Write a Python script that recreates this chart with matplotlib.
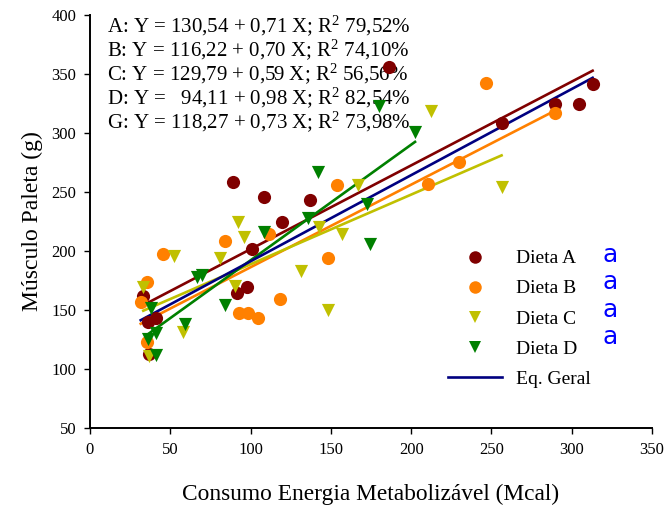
import matplotlib
matplotlib.use("Agg")
import matplotlib.pyplot as plt
from matplotlib.lines import Line2D
import numpy as np

plt.rcParams["font.family"] = ["Liberation Serif", "DejaVu Serif"]
plt.rcParams["mathtext.fontset"] = "custom"
plt.rcParams["mathtext.rm"] = "Liberation Serif"
plt.rcParams["mathtext.it"] = "Liberation Serif"

# pontos (consumo EM em Mcal, músculo paleta em g)
dieta_a_x = [88.8, 108.5, 119.4, 100.7, 97.6, 91.3, 33.2, 36.3, 40.9, 36.9, 186.0, 289.3, 304.7, 313.0, 256.3, 137.0]
dieta_a_y = [258.2, 245.5, 224.8, 201.7, 169.2, 164.7, 161.9, 140.0, 143.0, 112.7, 356.2, 324.6, 324.6, 341.5, 308.2, 243.2]

dieta_b_x = [111.6, 84.3, 45.6, 35.7, 31.6, 35.7, 93.0, 98.6, 104.8, 118.3, 154.0, 210.6, 229.8, 148.4, 246.6, 289.3]
dieta_b_y = [214.6, 208.7, 197.7, 174.0, 156.8, 122.6, 147.2, 147.7, 143.0, 159.1, 256.0, 256.8, 275.4, 193.8, 342.6, 316.7]

dieta_c_x = [52.3, 92.3, 95.9, 80.9, 33.2, 90.3, 58.1, 36.9, 167.1, 142.8, 156.7, 131.4, 212.3, 256.3, 148.4]
dieta_c_y = [195.8, 224.8, 212.1, 193.8, 169.8, 170.3, 131.6, 111.0, 256.0, 220.0, 214.2, 183.1, 318.6, 254.5, 150.0]

dieta_d_x = [180.1, 202.4, 142.2, 172.7, 135.9, 174.3, 108.3, 66.4, 69.6, 84.1, 59.2, 37.8, 41.1, 36.3, 41.1]
dieta_d_y = [322.9, 301.1, 267.2, 240.0, 227.7, 205.7, 215.8, 177.7, 179.4, 154.2, 138.1, 151.4, 130.2, 125.2, 111.9]

# equações de regressão
grupos = ["A", "B", "C", "D", "G"]
interceptos = [130.54, 116.22, 129.79, 94.11, 118.27]
inclinacoes = [0.71, 0.70, 0.59, 0.98, 0.73]
r2 = [79.52, 74.10, 56.56, 82.54, 73.98]

rotulos = ["Dieta A", "Dieta B", "Dieta C", "Dieta D", "Eq. Geral"]
letras = ["a", "a", "a", "a"]
cores = ["#800000", "#ff8000", "#c0c000", "#008000", "#000080"]
marcadores = ["o", "o", "v", "v"]


def virgula(v):
    return f"{v:.2f}".replace(".", ",")


fig = plt.figure(figsize=(6.64, 5.08), dpi=100)
ax = fig.add_axes([0.1355, 0.1575, 0.8465, 0.813])

series = [(dieta_a_x, dieta_a_y), (dieta_b_x, dieta_b_y),
          (dieta_c_x, dieta_c_y), (dieta_d_x, dieta_d_y)]
todos_x = np.concatenate([np.array(s[0]) for s in series])

handles = []
for i, (xs, ys) in enumerate(series):
    ax.scatter(xs, ys, s=90, marker=marcadores[i], color=cores[i],
               linewidths=0, zorder=3 + i)
    xl = np.array([min(xs), max(xs)])
    ax.plot(xl, interceptos[i] + inclinacoes[i] * xl, color=cores[i], lw=1.9, zorder=2)
    handles.append(Line2D([], [], ls="none", marker=marcadores[i], color=cores[i],
                          markersize=9, markeredgewidth=0))

xg = np.array([todos_x.min(), todos_x.max()])
ax.plot(xg, interceptos[4] + inclinacoes[4] * xg, color=cores[4], lw=1.9, zorder=2)
handles.append(Line2D([], [], color=cores[4], lw=1.9))

# uma linha de texto por equação
for k, (g, a, b, r) in enumerate(zip(grupos, interceptos, inclinacoes, r2)):
    sa = virgula(a)
    if len(sa) < 6:
        sa = "  " + sa
    txt = f"{g}: Y = {sa} + {virgula(b)} X; R$^2$ {virgula(r)}%"
    ax.text(0.03, 0.975 - 0.058 * k, txt, transform=ax.transAxes, va="center", ha="left",
            fontsize=15.0, zorder=1)

leg = ax.legend(handles, rotulos, loc="upper left", bbox_to_anchor=(0.6196, 0.455),
                frameon=False, fontsize=14, handlelength=2.8, handletextpad=0.7,
                labelspacing=0.64, borderpad=0.0)

for k, t in enumerate(letras):
    ax.text(0.925, 0.419 - 0.0665 * k, t, transform=ax.transAxes, color="#0000ff",
            fontsize=18, family="DejaVu Sans", ha="center", va="center")

ax.set_xlim(0, 350)
ax.set_ylim(50, 400)
ax.set_xticks(np.arange(0, 351, 50))
ax.set_yticks(np.arange(50, 401, 50))
ax.spines["top"].set_visible(False)
ax.spines["right"].set_visible(False)
for s in ("left", "bottom"):
    ax.spines[s].set_linewidth(1.4)
ax.tick_params(direction="out", length=4, width=1, labelsize=12, pad=6)
ax.set_xlabel("Consumo Energia Metabolizável (Mcal)", fontsize=16.8, labelpad=19)
ax.set_ylabel("Músculo Paleta (g)", fontsize=17, labelpad=6)

fig.savefig("out.png", dpi=100)
